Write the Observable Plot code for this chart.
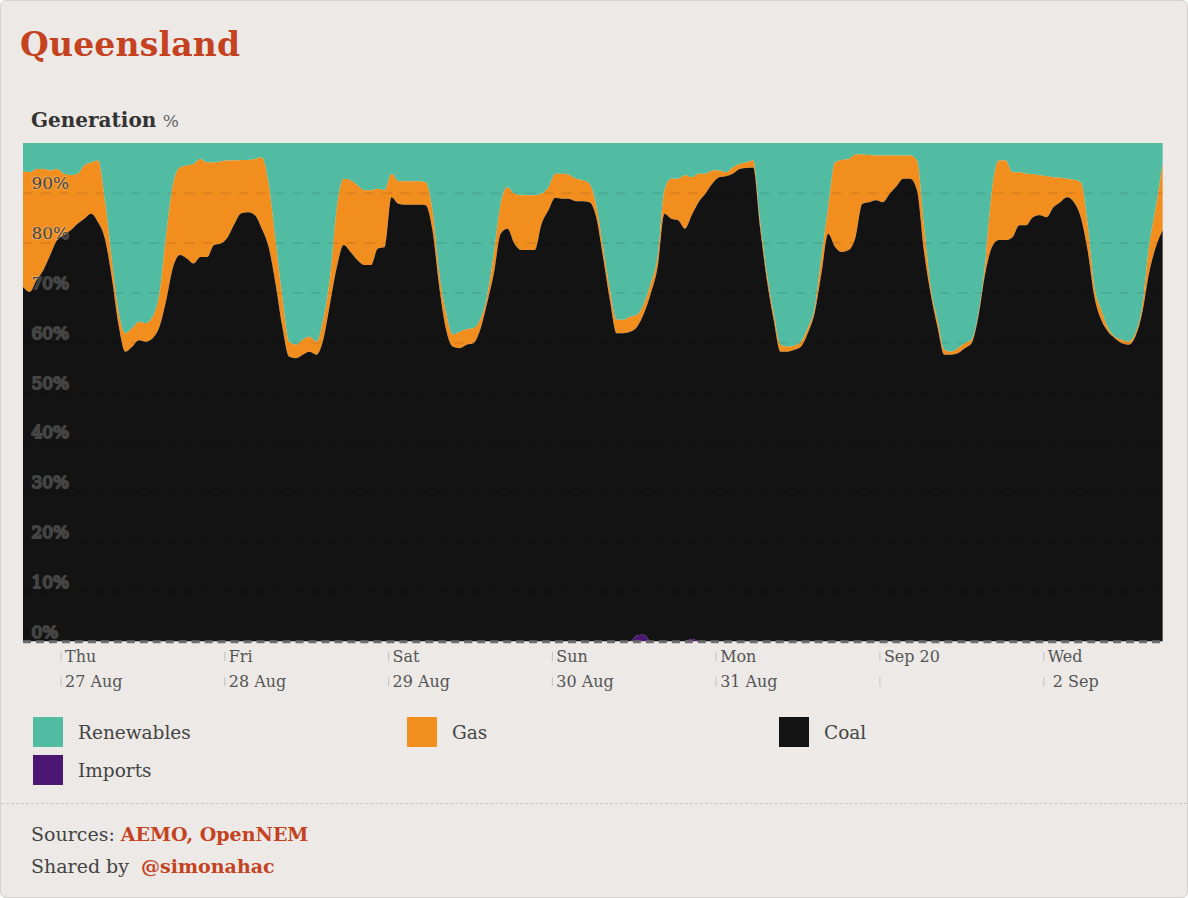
<!DOCTYPE html>
<html>
<head>
<meta charset="utf-8">
<script src="https://cdn.jsdelivr.net/npm/d3@7"></script>
<script src="https://cdn.jsdelivr.net/npm/@observablehq/plot@0.6"></script>
<style>
  html, body { margin: 0; padding: 0; background: #ffffff; }
  body { width: 1188px; height: 898px; overflow: hidden; font-family: "DejaVu Serif", Georgia, serif; }
  #card { position: absolute; left: 0; top: 0; width: 1186px; height: 896px; background: #ece9e6; border: 1px solid #d4d2d0; border-radius: 6px; }
  #title { position: absolute; left: 19px; top: 24px; font-size: 33px; font-weight: bold; color: #c4421f; letter-spacing: 0.2px; }
  #subtitle { position: absolute; left: 30px; top: 107px; font-size: 20px; color: #333; }
  #subtitle b { font-weight: bold; }
  #subtitle span { color: #666; font-size: 17px; }
  #chart { position: absolute; left: 0; top: 130px; }
  g[aria-label="ylabels"] { filter: drop-shadow(0 0 1.2px rgba(255,255,255,0.85)); }
  .leg { position: absolute; display: flex; align-items: center; font-size: 18.5px; color: #444; }
  .sw { width: 30px; height: 30px; margin-right: 15px; }
  #sep { position: absolute; left: 0; top: 802px; width: 1186px; border-top: 1.5px dashed #c9c7c5; }
  .src { position: absolute; left: 30px; font-size: 19px; color: #444; }
  .src b { color: #c4421f; }
</style>
</head>
<body>
<div id="card">
  <div id="title">Queensland</div>
  <div id="subtitle"><b>Generation</b> <span>%</span></div>
  <div id="chart"></div>
  <div id="legend"></div>
  <div id="sep"></div>
  <div class="src" style="top:822px">Sources: <b>AEMO, OpenNEM</b></div>
  <div class="src" style="top:854px">Shared by &nbsp;<b>@simonahac</b></div>
</div>
<script>
// ---- Data (hourly shares, %), starting 26 Aug 2020 18:30 ----
const coal = [
71.1,70.1,72.5,74.5,77.5,80.5,81.5,82.5,83.8,84.8,85.8,84.1,80.8,73.1,63.5,58.1,59.1,60.4,60.1,60.8,
63.1,68.5,75.1,77.5,76.8,75.8,77.1,77.1,79.5,79.8,81.1,83.8,85.9,86.1,85.5,82.8,79.1,71.8,63.1,57.1,
56.8,57.5,58.1,57.5,60.5,67.8,75.1,79.5,78.1,76.5,75.5,75.5,78.8,79.1,89.1,87.8,87.6,87.6,87.6,87.5,
82.5,71.1,62.5,59.1,58.8,59.5,59.8,62.5,67.8,73.8,81.8,82.8,79.8,78.5,78.5,78.5,83.8,86.5,89.0,88.8,
88.8,88.3,88.3,88.1,85.1,77.1,68.5,61.8,61.8,62.1,61.9,64.5,69.8,75.1,85.8,84.8,84.5,82.8,85.0,88.1,
89.8,91.8,93.1,93.3,93.8,94.8,95.0,95.1,83.1,72.5,64.5,58.1,58.1,58.5,59.1,61.8,65.8,73.8,81.8,79.1,
78.1,78.5,81.1,87.8,88.1,88.5,88.1,89.8,91.3,92.8,92.8,90.5,78.5,69.8,63.1,57.5,57.5,57.8,58.8,59.8,
65.1,73.8,79.1,80.5,80.5,81.1,83.5,83.5,85.1,85.5,85.1,87.1,88.1,89.1,88.1,85.1,78.5,69.1,64.5,62.1,
60.8,59.8,59.5,61.1,65.8,73.8,79.1,82.5];
const gas = [
23.2,24.0,22.3,20.3,17.0,14.3,12.3,11.0,10.0,10.7,10.3,12.4,7.7,3.7,2.6,3.7,3.7,3.7,3.7,4.3,
6.7,13.3,16.7,17.6,18.7,20.0,19.7,19.0,16.6,16.5,15.4,12.7,10.7,10.5,11.3,14.3,12.7,8.7,6.0,3.0,
2.7,3.0,3.0,2.6,4.0,5.3,12.0,13.3,14.4,15.0,15.0,15.0,12.0,11.4,4.7,4.5,4.7,4.7,4.7,4.6,
4.0,2.7,3.3,2.4,3.3,3.1,3.0,2.0,1.3,4.0,6.0,8.3,10.0,11.0,11.0,11.0,6.0,4.6,4.8,5.0,
4.8,4.5,4.2,3.7,2.4,2.0,2.0,2.7,2.7,3.0,2.4,2.0,2.0,2.0,4.7,8.0,8.3,10.7,7.6,5.7,
4.0,2.7,1.4,0.8,1.3,1.0,1.1,1.4,1.4,1.3,1.3,1.4,1.0,0.8,1.0,1.0,1.0,3.3,5.3,17.0,
18.5,18.3,16.6,9.9,9.5,9.0,9.4,7.7,6.2,4.7,4.7,6.0,5.3,1.3,1.4,1.0,0.6,1.0,1.0,0.7,
0.7,2.0,11.4,16.0,16.0,13.0,10.6,10.3,8.6,8.0,8.2,6.0,4.9,3.7,4.5,7.0,5.3,2.0,2.0,0.7,
0.3,0.7,0.6,0.7,1.3,5.3,8.0,13.3];
const renewables = [
5.7,5.9,5.2,5.2,5.5,5.2,6.2,6.5,6.2,4.5,3.9,3.5,11.5,23.2,33.9,38.2,37.2,35.9,36.2,34.9,
30.2,18.2,8.2,4.9,4.5,4.2,3.2,3.9,3.9,3.7,3.5,3.5,3.4,3.4,3.2,2.9,8.2,19.5,30.9,39.9,
40.5,39.5,38.9,39.9,35.5,26.9,12.9,7.2,7.5,8.5,9.5,9.5,9.2,9.5,6.2,7.7,7.7,7.7,7.7,7.9,
13.5,26.2,34.2,38.5,37.9,37.4,37.2,35.5,30.9,22.2,12.2,8.9,10.2,10.5,10.5,10.5,10.2,8.9,6.2,6.2,
6.4,7.2,7.5,8.2,12.5,20.9,29.5,35.5,35.5,34.9,34.5,32.2,28.2,22.9,9.5,7.2,7.2,6.5,6.9,6.2,
6.2,5.5,5.5,5.9,4.9,4.2,3.9,3.5,15.5,26.2,34.2,40.5,40.9,40.7,39.9,37.2,33.2,22.9,12.9,3.9,
3.4,3.2,2.3,2.3,2.4,2.5,2.5,2.5,2.5,2.5,2.5,3.5,16.2,28.9,35.5,41.5,41.9,41.2,40.2,39.5,
34.2,24.2,9.5,3.5,3.5,5.9,5.9,6.2,6.3,6.5,6.7,6.9,7.0,7.2,7.4,7.9,16.2,28.9,33.5,37.2,
38.9,39.5,39.9,38.2,32.9,20.9,12.9,4.2];
const imports = [
0,0,0,0,0,0,0,0,0,0,0,0,0,0,0,0,0,0,0,0,
0,0,0,0,0,0,0,0,0,0,0,0,0,0,0,0,0,0,0,0,
0,0,0,0,0,0,0,0,0,0,0,0,0,0,0,0,0,0,0,0,
0,0,0,0,0,0,0,0,0,0,0,0,0,0,0,0,0,0,0,0,
0,0,0,0,0,0,0,0,0,0,1.2,1.3,0,0,0,0,0,0,0.5,0,
0,0,0,0,0,0,0,0,0,0,0,0,0,0,0,0,0,0,0,0,
0,0,0,0,0,0,0,0,0,0,0,0,0,0,0,0,0,0,0,0,
0,0,0,0,0,0,0,0,0,0,0,0,0,0,0,0,0,0,0,0,
0,0,0,0,0,0,0,0];

const sources = ["Renewables", "Gas", "Coal", "Imports"];
const colors = ["#52bca3", "#f28e1e", "#131313", "#4b1773"];
const stackOrder = ["Imports", "Coal", "Gas", "Renewables"];
const yTicks = [0, 10, 20, 30, 40, 50, 60, 70, 80, 90];
const gridTicks = [10, 20, 30, 40, 50, 60, 70, 80, 90];
const tickDates = [
  new Date(Date.UTC(2020, 7, 27)), new Date(Date.UTC(2020, 7, 28)), new Date(Date.UTC(2020, 7, 29)),
  new Date(Date.UTC(2020, 7, 30)), new Date(Date.UTC(2020, 7, 31)), new Date(Date.UTC(2020, 8, 1)),
  new Date(Date.UTC(2020, 8, 2))];
const tickLine1 = ["Thu", "Fri", "Sat", "Sun", "Mon", "Sep 20", "Wed"];
const tickLine2 = ["27 Aug", "28 Aug", "29 Aug", "30 Aug", "31 Aug", "", " 2 Sep"];

const start = Date.UTC(2020, 7, 26, 18, 30);
const times = coal.map((_, i) => new Date(start + i * 3600e3));
const series = {Renewables: renewables, Gas: gas, Coal: coal, Imports: imports};
const table = [];
for (const s of sources) series[s].forEach((v, i) => table.push({time: times[i], source: s, value: v}));

const chart = Plot.plot({
  width: 1188,
  height: 580,
  marginLeft: 22,
  marginRight: 24.4,
  marginTop: 12,
  marginBottom: 69,
  style: {background: "transparent", fontFamily: "'DejaVu Serif', Georgia, serif"},
  x: {type: "utc", domain: [times[0], times[times.length - 1]], axis: null},
  y: {domain: [0, 100], axis: null},
  color: {domain: sources, range: colors},
  marks: [
    Plot.areaY(table, {x: "time", y: "value", z: "source", fill: "source", order: stackOrder, curve: "monotone-x"}),
    Plot.ruleY(gridTicks, {stroke: "#000", strokeOpacity: 0.08, strokeWidth: 2, strokeDasharray: "10,8"}),
    Plot.ruleY([0], {stroke: "#6d6d6d", strokeWidth: 3, strokeDasharray: "8,5"}),
    Plot.text(yTicks, {frameAnchor: "left", y: d => d, text: d => d + "%", dx: 8, dy: -4, lineAnchor: "bottom",
      textAnchor: "start", fontSize: 17, fill: "#444", stroke: "#fff", strokeOpacity: 0.22, strokeWidth: 2,
      ariaLabel: "ylabels"}),
    Plot.ruleX(tickDates, {x: d => d, y1: 0, y2: 0, insetBottom: -9, dy: 11, stroke: "#c4c2c0"}),
    Plot.ruleX(tickDates, {x: d => d, y1: 0, y2: 0, insetBottom: -9, dy: 36, stroke: "#c4c2c0"}),
    Plot.text(tickDates, {x: d => d, frameAnchor: "bottom", text: (d, i) => tickLine1[i], dx: 4, dy: 9,
      textAnchor: "start", lineAnchor: "top", fontSize: 16, fill: "#555"}),
    Plot.text(tickDates, {x: d => d, frameAnchor: "bottom", text: (d, i) => tickLine2[i], dx: 4, dy: 34,
      textAnchor: "start", lineAnchor: "top", fontSize: 16, fill: "#555"})
  ]
});
document.getElementById("chart").appendChild(chart);

// legend
const legPos = [[32, 716], [406, 716], [778, 716], [32, 754]];
const legend = document.getElementById("legend");
sources.forEach((s, i) => {
  const d = document.createElement("div");
  d.className = "leg";
  d.style.left = legPos[i][0] + "px";
  d.style.top = legPos[i][1] + "px";
  d.innerHTML = `<div class="sw" style="background:${colors[i]}"></div><span>${s}</span>`;
  legend.appendChild(d);
});
</script>
</body>
</html>
